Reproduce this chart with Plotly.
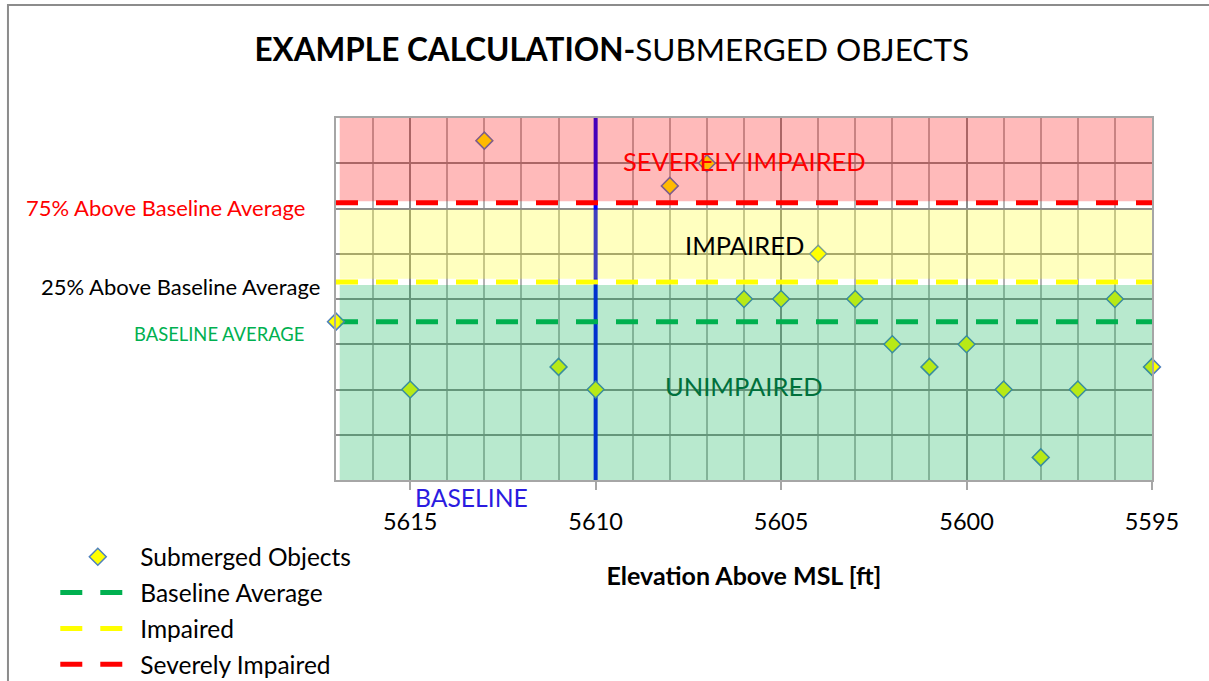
import plotly.graph_objects as go

# ---------------- data ----------------
elevation = [5617, 5615, 5613, 5611, 5610, 5608, 5607, 5606, 5605, 5604,
             5603, 5602, 5601, 5600, 5599, 5598, 5597, 5596, 5595]
objects = [3.5, 2.0, 7.5, 2.5, 2.0, 6.5, 7.0, 4.0, 4.0, 5.0,
           4.0, 3.0, 2.5, 3.0, 2.0, 0.5, 2.0, 4.0, 2.5]
baseline_elev = 5610
baseline_avg = 3.5
impaired_lvl = baseline_avg * 1.25      # 25% above baseline average
severe_lvl = baseline_avg * 1.75        # 75% above baseline average
x_range = [5617, 5595]
y_range = [0, 8]
x_ticks = [5615, 5610, 5605, 5600, 5595]

# zone bands (lower, upper, colour)
band_low = [0.0, 4.45, 6.16]
band_high = [4.31, 5.97, 8.0]
band_colors = ["rgba(0,176,80,0.28)", "rgba(255,255,0,0.25)", "rgba(255,0,0,0.27)"]

FONT = "Lato"

fig = go.Figure()

# baseline vertical line
fig.add_trace(go.Scatter(x=[baseline_elev, baseline_elev], y=y_range, mode="lines",
                         line=dict(color="#0000FF", width=4), showlegend=False,
                         hoverinfo="skip"))

dash = "22px,18px"
for name, lvl, col, rank in [("Baseline Average", baseline_avg, "#00B050", 2),
                              ("Impaired", impaired_lvl, "#FFFF00", 3),
                              ("Severely Impaired", severe_lvl, "#FF0000", 4)]:
    fig.add_trace(go.Scatter(x=x_range, y=[lvl, lvl], mode="lines", name=name,
                             line=dict(color=col, width=5, dash=dash),
                             legendrank=rank, legendgroup=name))

fig.add_trace(go.Scatter(x=elevation, y=objects, mode="markers", name="Submerged Objects",
                         marker=dict(symbol="diamond", size=13, color="#FFFF00",
                                     line=dict(color="#4F81BD", width=1.5)),
                         cliponaxis=False, legendrank=1, legendgroup="obj"))

shapes = []
for lo, hi, col in zip(band_low, band_high, band_colors):
    shapes.append(dict(type="rect", xref="x", yref="y", x0=5616.9, x1=5595, y0=lo, y1=hi,
                       fillcolor=col, line=dict(width=0), layer="above"))
# outer chart border
shapes.append(dict(type="rect", xref="paper", yref="paper", x0=-0.402, x1=1.08,
                   y0=-0.6, y1=1.312, line=dict(color="#8C8C8C", width=2),
                   fillcolor="rgba(0,0,0,0)", layer="below"))

annotations = [
    dict(x=5606, y=7.05, xref="x", yref="y", text="SEVERELY IMPAIRED", showarrow=False,
         font=dict(family=FONT, size=25.5, color="#FF0000")),
    dict(x=5606, y=5.19, xref="x", yref="y", text="IMPAIRED", showarrow=False,
         font=dict(family=FONT, size=25.5, color="#000000")),
    dict(x=5606, y=2.08, xref="x", yref="y", text="UNIMPAIRED", showarrow=False,
         font=dict(family=FONT, size=25.5, color="#00703C")),
    dict(x=-0.0355, y=severe_lvl, xref="paper", yref="y", yshift=-5, xanchor="right",
         text="75% Above Baseline Average", showarrow=False,
         font=dict(family=FONT, size=22, color="#FF0000")),
    dict(x=-0.017, y=impaired_lvl, xref="paper", yref="y", yshift=-4, xanchor="right",
         text="25% Above Baseline Average", showarrow=False,
         font=dict(family=FONT, size=22, color="#000000")),
    dict(x=-0.037, y=baseline_avg, xref="paper", yref="y", yshift=-12, xanchor="right",
         text="BASELINE AVERAGE", showarrow=False,
         font=dict(family=FONT, size=18.4, color="#00B050")),
    dict(x=5613.35, y=-0.047, xref="x", yref="paper", yanchor="middle", text="BASELINE",
         showarrow=False, font=dict(family=FONT, size=24.7, color="#2B1BE0")),
]

fig.update_layout(
    width=1209, height=681,
    margin=dict(l=336, r=57, t=118, b=201, autoexpand=False),
    paper_bgcolor="white", plot_bgcolor="white",
    font=dict(family=FONT, color="#000000"),
    title=dict(text="<b>EXAMPLE CALCULATION-</b>SUBMERGED OBJECTS", x=0.506, xanchor="center",
               y=0.926, yanchor="middle", font=dict(family=FONT, size=31.5, color="#000000")),
    shapes=shapes, annotations=annotations,
    showlegend=True,
    legend=dict(x=-0.344, xanchor="left", y=-0.15, yanchor="top", bgcolor="rgba(0,0,0,0)",
                font=dict(family=FONT, size=24.5, color="#000000"), itemwidth=75,
                tracegroupgap=1, traceorder="grouped"),
    xaxis=dict(range=x_range, tickvals=x_ticks, showgrid=True, gridcolor="#8C8C8C", gridwidth=2,
               minor=dict(dtick=1, tick0=5595, showgrid=True, gridcolor="#B4B4B4", gridwidth=1.5),
               showline=True, linecolor="#A6A6A6", linewidth=2, mirror=True,
               ticks="outside", ticklen=8, tickcolor="#A6A6A6", tickwidth=2,
               ticklabelstandoff=12, tickfont=dict(family=FONT, size=23.5, color="#000000"),
               zeroline=False, automargin=False,
               title=dict(text="<b>Elevation Above MSL [ft]</b>", standoff=33,
                          font=dict(family=FONT, size=25, color="#000000"))),
    yaxis=dict(range=y_range, dtick=1, showgrid=True, gridcolor="#8C8C8C", gridwidth=2,
               showticklabels=False, showline=True, linecolor="#A6A6A6", linewidth=2,
               mirror=True, zeroline=False, ticks="", automargin=False),
)

fig.write_html("out.html", post_script="document.body.style.margin='0';",
               config={"displayModeBar": False})
